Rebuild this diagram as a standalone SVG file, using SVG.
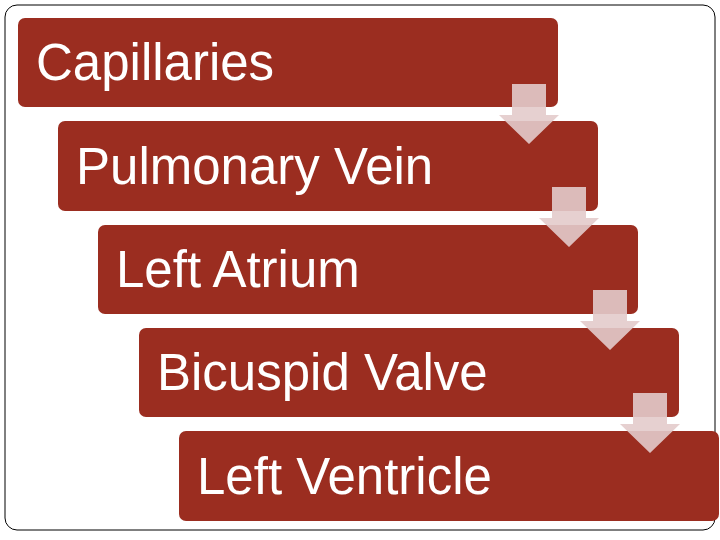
<svg xmlns="http://www.w3.org/2000/svg" width="720" height="540" viewBox="0 0 720 540">
<style>
.box{fill:#9B2D20}
.lbl{font-family:"Liberation Sans",Arial,sans-serif;font-size:51px;fill:#fff}
.arr{fill:#E3CBCB;fill-opacity:0.9}
</style>
<defs><path id="a" class="arr" d="M512,84H546V115H559L529,144L499,115H512Z"/></defs>
<rect x="5" y="5" width="710" height="525" rx="12" fill="#fff" stroke="#000" stroke-width="1"/>
<g id="n1"><rect class="box" x="18" y="18" width="540" height="89" rx="7"/><text class="lbl" x="36" y="80">Capillaries</text></g>
<g id="n2"><rect class="box" x="58" y="121" width="540" height="90" rx="7"/><text class="lbl" x="76" y="184">Pulmonary Vein</text></g>
<g id="n3"><rect class="box" x="98" y="225" width="540" height="89" rx="7"/><text class="lbl" x="116" y="287">Left Atrium</text></g>
<g id="n4"><rect class="box" x="139" y="328" width="540" height="89" rx="7"/><text class="lbl" x="157" y="390">Bicuspid Valve</text></g>
<g id="n5"><rect class="box" x="179" y="431" width="540" height="90" rx="7"/><text class="lbl" x="197" y="494">Left Ventricle</text></g>
<g id="connectors">
<use href="#a"/>
<use href="#a" transform="translate(40,103)"/>
<use href="#a" transform="translate(81,206)"/>
<use href="#a" transform="translate(121,309)"/>
</g>
</svg>
